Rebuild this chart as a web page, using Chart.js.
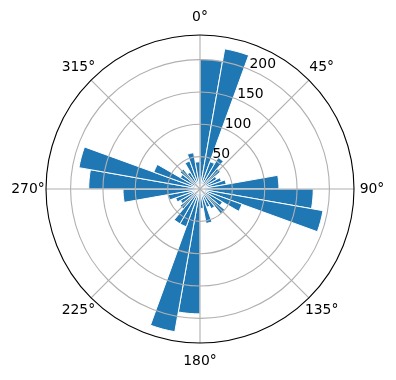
<!DOCTYPE html>
<html>
<head>
<meta charset="utf-8">
<script src="https://cdn.jsdelivr.net/npm/chart.js@4.4.0/dist/chart.umd.min.js"></script>
<style>
  html, body { margin: 0; padding: 0; background: #fff; }
</style>
</head>
<body>
<canvas id="rose" width="396" height="380"></canvas>
<script>
// 10 degree direction bins, clockwise from north
const binLabels = [
  "0°", "10°", "20°", "30°", "40°", "50°", "60°", "70°", "80°",
  "90°", "100°", "110°", "120°", "130°", "140°", "150°", "160°", "170°",
  "180°", "190°", "200°", "210°", "220°", "230°", "240°", "250°", "260°",
  "270°", "280°", "290°", "300°", "310°", "320°", "330°", "340°", "350°"
];
const counts = [
  201, 220, 45, 56, 41, 30, 35, 41, 122,
  175, 193, 69, 40, 50, 35, 30, 54, 30,
  193, 224, 62, 62, 40, 35, 40, 50, 119,
  172, 190, 76, 35, 40, 30, 46, 57, 42
];
const angleTicks = [0, 45, 90, 135, 180, 225, 270, 315];
const radialTicks = [50, 100, 150, 200];
const radialMax = 238;

const gridGray = "#b0b0b0";
const labelFont = '13.9px "DejaVu Sans", sans-serif';

// matplotlib-like frame: spokes every 45°, black outer ring, labels
const polarFrame = {
  id: "polarFrame",
  afterDraw(chart) {
    const r = chart.scales.r;
    const c = chart.ctx;
    const cx = r.xCenter, cy = r.yCenter, rad = r.drawingArea;
    c.save();
    c.strokeStyle = gridGray;
    c.lineWidth = 1.1;
    angleTicks.forEach((deg) => {
      const a = (deg * Math.PI) / 180;
      c.beginPath();
      c.moveTo(cx, cy);
      c.lineTo(cx + Math.sin(a) * rad, cy - Math.cos(a) * rad);
      c.stroke();
    });
    c.strokeStyle = "#000";
    c.lineWidth = 1.1;
    c.beginPath();
    c.arc(cx, cy, rad, 0, Math.PI * 2);
    c.stroke();

    c.fillStyle = "#000";
    c.font = labelFont;
    // angle labels
    c.textAlign = "center";
    c.textBaseline = "middle";
    angleTicks.forEach((deg) => {
      const a = (deg * Math.PI) / 180;
      const d = rad + 18;
      c.fillText(deg + "°", cx + Math.sin(a) * d, cy - Math.cos(a) * d);
    });
    // radial labels along 22.5°
    c.textAlign = "left";
    c.textBaseline = "bottom";
    const la = (22.5 * Math.PI) / 180;
    radialTicks.forEach((v) => {
      const d = r.getDistanceFromCenterForValue(v);
      c.fillText(String(v), cx + Math.sin(la) * d, cy - Math.cos(la) * d + 2);
    });
    c.restore();
  },
};

new Chart(document.getElementById("rose"), {
  type: "polarArea",
  data: {
    labels: binLabels,
    datasets: [
      {
        data: counts,
        backgroundColor: "#1f77b4",
        borderColor: "#ffffff",
        borderWidth: 1,
      },
    ],
  },
  options: {
    responsive: false,
    animation: false,
    layout: { padding: { left: 46, top: 35, right: 42, bottom: 37 } },
    plugins: {
      legend: { display: false },
      tooltip: { enabled: false },
    },
    scales: {
      r: {
        min: 0,
        max: radialMax,
        startAngle: 0,
        ticks: { display: false, stepSize: 50 },
        grid: {
          z: 1,
          lineWidth: 1.1,
          color: (ctx) =>
            ctx.tick && ctx.tick.value >= radialMax ? "rgba(0,0,0,0)" : gridGray,
        },
        angleLines: { display: false },
        pointLabels: { display: false },
      },
    },
  },
  plugins: [polarFrame],
});
</script>
</body>
</html>
